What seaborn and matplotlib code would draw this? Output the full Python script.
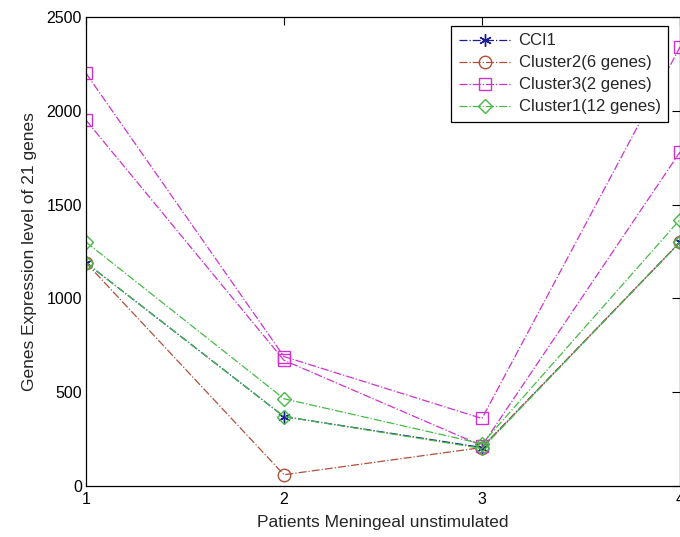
import matplotlib
matplotlib.use("Agg")
import matplotlib.pyplot as plt
import seaborn as sns
import pandas as pd

# Patients on the x axis
patients = [1, 2, 3, 4]

# Expression profiles per group (one list per plotted line)
cci1 = [1190, 370, 205, 1300]
cluster2 = [1190, 60, 205, 1300]
cluster3_a = [2200, 690, 360, 2340]
cluster3_b = [1950, 670, 215, 1780]
cluster1_a = [1300, 465, 225, 1420]
cluster1_b = [1190, 370, 200, 1300]

x_ticks = [1, 2, 3, 4]
y_ticks = [0, 500, 1000, 1500, 2000, 2500]

sns.set_theme(style="white")
plt.rcParams["font.family"] = ["Liberation Sans", "DejaVu Sans"]

fig = plt.figure(figsize=(6.8, 5.37), dpi=100)
ax = fig.add_axes([86 / 680, 1 - 486 / 537, 1 - 86 / 680, (486 - 17) / 537])

groups = [
    ("CCI1", "#1c1c96", (6, 2, 0), [cci1], "#1c1c96"),
    ("Cluster2(6 genes)", "#b0503a", "o", [cluster2], "none"),
    ("Cluster3(2 genes)", "#cc33cc", "s", [cluster3_a, cluster3_b], "none"),
    ("Cluster1(12 genes)", "#44bb44", "D", [cluster1_b, cluster1_a], "none"),
]

for label, color, marker, lines, face in groups:
    for i, values in enumerate(lines):
        df = pd.DataFrame({"patient": patients, "expr": values})
        sns.lineplot(
            data=df, x="patient", y="expr", ax=ax,
            estimator=None, sort=False,
            color=color, linestyle="-.", linewidth=0.9,
            marker=marker, markersize=9 if marker != "D" else 7,
            markerfacecolor=face, markeredgecolor=color, markeredgewidth=1.0,
            label=label if i == 0 else None,
        )

ax.set_xlim(1, 4)
ax.set_ylim(0, 2500)
ax.set_xticks(x_ticks)
ax.set_yticks(y_ticks)
ax.tick_params(direction="in", length=6, width=0.8, labelsize=11.5,
               top=True, right=True, colors="black", pad=3)
ax.tick_params(axis="x", pad=4)
for s in ax.spines.values():
    s.set_visible(True)
    s.set_color("black")
    s.set_linewidth(0.9)

ax.set_xlabel("Patients Meningeal unstimulated", fontsize=12.5, labelpad=6)
ax.set_ylabel("Genes Expression level of 21 genes", fontsize=12.5, labelpad=7)

leg = ax.legend(loc="upper right", bbox_to_anchor=(0.98, 0.981), borderaxespad=0,
                frameon=True, fancybox=False, edgecolor="black", fontsize=12,
                handlelength=3.2, borderpad=0.45, labelspacing=0.42,
                handletextpad=0.4, framealpha=1)
leg.get_frame().set_linewidth(0.9)

fig.savefig("out.png", dpi=100)
